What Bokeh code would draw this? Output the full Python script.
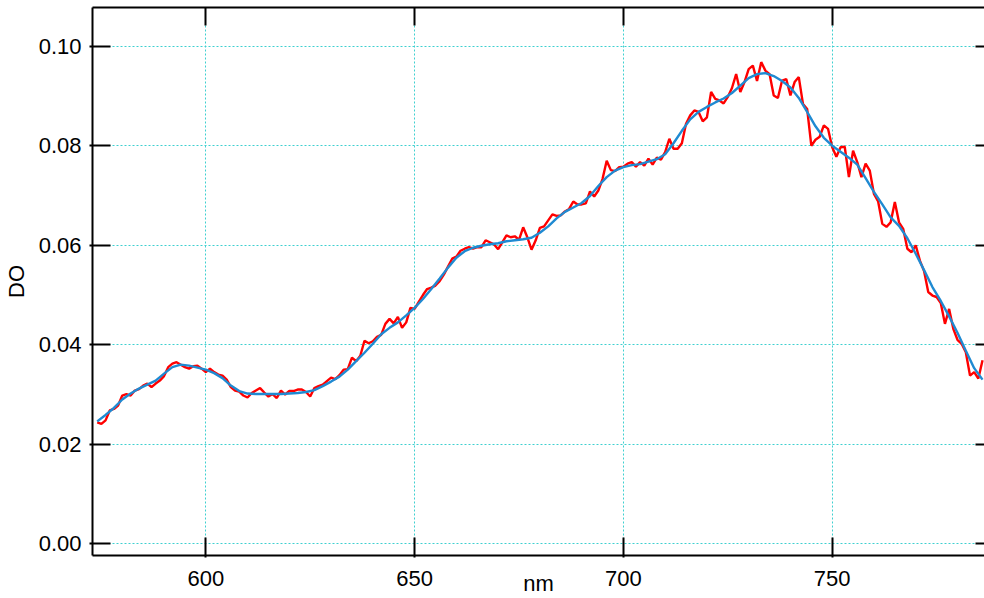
from bokeh.plotting import figure
from bokeh.models import (LinearAxis, SingleIntervalTicker, NumeralTickFormatter,
                          Range1d, ColumnDataSource)
from bokeh.embed import file_html
from bokeh.resources import INLINE

# ---------------- data ----------------
wl_meas = list(range(574, 787))          # nm, 1 nm step
do_meas = [
    0.0244, 0.0241, 0.0248, 0.0268, 0.0271, 0.0278,
    0.0298, 0.0301, 0.0298, 0.0308, 0.0311, 0.0318, 0.0322, 0.0315, 0.0322, 0.0328,
    0.0337, 0.0355, 0.0362, 0.0365, 0.0360, 0.0355, 0.0352, 0.0357, 0.0358, 0.0352,
    0.0345, 0.0352, 0.0345, 0.0340, 0.0338, 0.0330, 0.0315, 0.0308, 0.0306, 0.0298,
    0.0294, 0.0303, 0.0308, 0.0313, 0.0304, 0.0296, 0.0301, 0.0293, 0.0308, 0.0300,
    0.0307, 0.0307, 0.0310, 0.0310, 0.0305, 0.0296, 0.0313, 0.0317, 0.0320, 0.0327,
    0.0334, 0.0331, 0.0339, 0.0350, 0.0351, 0.0374, 0.0367, 0.0378, 0.0408, 0.0403,
    0.0407, 0.0416, 0.0420, 0.0442, 0.0452, 0.0443, 0.0456, 0.0434, 0.0445, 0.0474,
    0.0472, 0.0486, 0.0500, 0.0512, 0.0515, 0.0519, 0.0528, 0.0541, 0.0557, 0.0573,
    0.0577, 0.0589, 0.0593, 0.0596, 0.0593, 0.0596, 0.0596, 0.0610, 0.0606, 0.0602,
    0.0592, 0.0606, 0.0620, 0.0616, 0.0618, 0.0611, 0.0636, 0.0616, 0.0591, 0.0610,
    0.0635, 0.0638, 0.0650, 0.0662, 0.0659, 0.0660, 0.0668, 0.0673, 0.0688, 0.0682,
    0.0682, 0.0684, 0.0708, 0.0698, 0.0710, 0.0733, 0.0770, 0.0751, 0.0749, 0.0757,
    0.0758, 0.0764, 0.0767, 0.0758, 0.0767, 0.0760, 0.0774, 0.0762, 0.0776, 0.0772,
    0.0787, 0.0814, 0.0794, 0.0794, 0.0805, 0.0844, 0.0861, 0.0871, 0.0868, 0.0849,
    0.0857, 0.0908, 0.0894, 0.0891, 0.0885, 0.0898, 0.0916, 0.0944, 0.0908, 0.0928,
    0.0954, 0.0961, 0.0930, 0.0968, 0.0951, 0.0944, 0.0901, 0.0896, 0.0931, 0.0934,
    0.0901, 0.0928, 0.0938, 0.0884, 0.0874, 0.0800, 0.0812, 0.0818, 0.0841, 0.0834,
    0.0797, 0.0778, 0.0797, 0.0798, 0.0737, 0.0790, 0.0767, 0.0737, 0.0764, 0.0750,
    0.0703, 0.0688, 0.0643, 0.0637, 0.0646, 0.0687, 0.0646, 0.0633, 0.0593, 0.0586,
    0.0600, 0.0569, 0.0548, 0.0506, 0.0499, 0.0496, 0.0484, 0.0442, 0.0472, 0.0432,
    0.0410, 0.0402, 0.0385, 0.0338, 0.0345, 0.0332, 0.0369,
]

wl_fit = list(range(574, 787, 2))        # nm, 2 nm step
do_fit = [
    0.0246, 0.0259, 0.0273, 0.0290, 0.0302, 0.0312, 0.0320, 0.0328, 0.0342, 0.0355,
    0.0360, 0.0358, 0.0354, 0.0350, 0.0343, 0.0333, 0.0318, 0.0307, 0.0302, 0.0301,
    0.0301, 0.0301, 0.0301, 0.0302, 0.0303, 0.0305, 0.0309, 0.0317, 0.0326, 0.0336,
    0.0350, 0.0367, 0.0384, 0.0402, 0.0421, 0.0434, 0.0445, 0.0459, 0.0474, 0.0492,
    0.0512, 0.0533, 0.0555, 0.0575, 0.0588, 0.0595, 0.0599, 0.0602, 0.0604, 0.0608,
    0.0610, 0.0612, 0.0615, 0.0625, 0.0638, 0.0654, 0.0667, 0.0676, 0.0685, 0.0699,
    0.0719, 0.0737, 0.0750, 0.0757, 0.0761, 0.0763, 0.0768, 0.0773, 0.0783, 0.0805,
    0.0830, 0.0853, 0.0868, 0.0878, 0.0887, 0.0895, 0.0906, 0.0921, 0.0936, 0.0944,
    0.0946, 0.0940, 0.0930, 0.0917, 0.0896, 0.0868, 0.0839, 0.0816, 0.0800, 0.0788,
    0.0776, 0.0762, 0.0735, 0.0707, 0.0682, 0.0656, 0.0639, 0.0614, 0.0583, 0.0550,
    0.0516, 0.0488, 0.0457, 0.0424, 0.0388, 0.0353, 0.0330,
]

x_ticks_interval = 50
y_ticks_interval = 0.02
x_label = "nm"
y_label = "DO"

FONT = "Liberation Sans"
FS = "22px"

# ---------------- figure ----------------
p = figure(width=984, height=598, output_backend="svg", toolbar_location=None,
           x_range=Range1d(572.87, 786.47), y_range=Range1d(-0.00235, 0.10778),
           min_border_left=92, min_border_right=0, min_border_top=7,
           min_border_bottom=43)
p.outline_line_color = None
p.background_fill_color = "white"
p.border_fill_color = "white"

xt = SingleIntervalTicker(interval=x_ticks_interval, num_minor_ticks=0)
yt = SingleIntervalTicker(interval=y_ticks_interval, num_minor_ticks=0)

xa = p.xaxis[0]
xa.ticker = xt
ya = p.yaxis[0]
ya.ticker = yt
ya.formatter = NumeralTickFormatter(format="0.00")

for ax in (xa, ya):
    ax.axis_line_width = 2
    ax.axis_line_color = "black"
    ax.major_tick_line_width = 2
    ax.major_tick_line_color = "black"
    ax.minor_tick_line_color = None
    ax.major_label_text_font = FONT
    ax.major_label_text_font_size = FS
    ax.major_label_text_color = "black"
    ax.axis_label_text_font = FONT
    ax.axis_label_text_font_size = FS
    ax.axis_label_text_font_style = "normal"
    ax.axis_label_text_color = "black"

xa.major_tick_in = 18
xa.major_tick_out = 2
xa.major_label_standoff = 13
xa.axis_label = x_label
xa.axis_label_standoff = -18

ya.major_tick_in = 18
ya.major_tick_out = 3
ya.major_label_standoff = 8
ya.axis_label = y_label
ya.axis_label_standoff = 7

top = LinearAxis(ticker=xt, major_label_text_font_size="0px",
                 major_label_text_alpha=0, major_label_standoff=0,
                 major_tick_in=18, major_tick_out=0, major_tick_line_width=2,
                 axis_line_width=2, minor_tick_line_color=None)
right = LinearAxis(ticker=yt, major_label_text_font_size="0px",
                   major_label_text_alpha=0, major_label_standoff=0,
                   major_tick_in=9, major_tick_out=0, major_tick_line_width=2,
                   axis_line_color=None, minor_tick_line_color=None)
p.add_layout(top, "above")
p.add_layout(right, "right")

p.xgrid.ticker = xt
p.ygrid.ticker = yt
p.grid.grid_line_color = "#3fd0d0"
p.grid.grid_line_dash = "2 2"
p.grid.grid_line_width = 1

src_m = ColumnDataSource(dict(x=wl_meas, y=do_meas))
src_f = ColumnDataSource(dict(x=wl_fit, y=do_fit))
p.line("x", "y", source=src_m, line_color="#ff0000", line_width=2.4)
p.line("x", "y", source=src_f, line_color="#1f8ad2", line_width=2.4)

open("out.html", "w").write(file_html(p, INLINE))
